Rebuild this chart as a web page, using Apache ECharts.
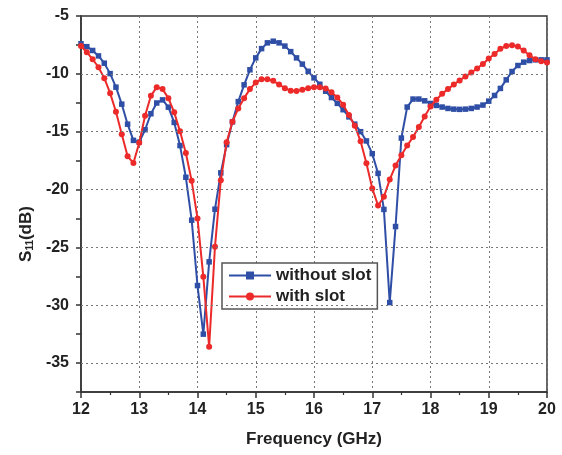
<!DOCTYPE html>
<html><head><meta charset="utf-8">
<script src="https://cdn.jsdelivr.net/npm/echarts@6/dist/echarts.min.js"></script>
<style>html,body{margin:0;padding:0;background:#fff}#c{width:562px;height:455px}</style>
</head><body><div id="c"></div>
<script>
var freq = [12.0,12.1,12.2,12.3,12.4,12.5,12.6,12.7,12.8,12.9,13.0,13.1,13.2,13.3,13.4,13.5,13.6,13.7,13.8,13.9,
14.0,14.1,14.2,14.3,14.4,14.5,14.6,14.7,14.8,14.9,15.0,15.1,15.2,15.3,15.4,15.5,15.6,15.7,15.8,15.9,
16.0,16.1,16.2,16.3,16.4,16.5,16.6,16.7,16.8,16.9,17.0,17.1,17.2,17.3,17.4,17.5,17.6,17.7,17.8,17.9,
18.0,18.1,18.2,18.3,18.4,18.5,18.6,18.7,18.8,18.9,19.0,19.1,19.2,19.3,19.4,19.5,19.6,19.7,19.8,19.9,20.0];
var withoutSlot = [-7.4,-7.65,-7.98,-8.45,-9.08,-9.98,-11.15,-12.62,-14.35,-15.75,-15.9,-14.83,-13.45,-12.52,-12.25,-12.88,-14.2,-16.2,-18.94,-22.65,
-28.3,-32.5,-26.25,-21.7,-18.56,-16.12,-14.15,-12.4,-10.95,-9.65,-8.62,-7.82,-7.32,-7.18,-7.32,-7.6,-8.08,-8.62,-9.16,-9.78,
-10.35,-10.9,-11.5,-12.05,-12.55,-13.1,-13.72,-14.35,-15.0,-15.8,-16.9,-18.6,-21.72,-29.77,-23.2,-15.55,-12.87,-12.18,-12.18,-12.33,
-12.56,-12.73,-12.87,-12.99,-13.05,-13.07,-13.05,-12.99,-12.87,-12.7,-12.36,-11.87,-11.26,-10.52,-9.8,-9.28,-8.99,-8.85,-8.79,-8.79,-8.79];
var withSlot = [-7.59,-8.13,-8.74,-9.43,-10.37,-11.67,-13.28,-15.23,-17.13,-17.7,-15.95,-13.62,-11.9,-11.15,-11.32,-12.1,-13.33,-14.97,-16.84,-19.25,
-22.5,-27.53,-33.59,-24.95,-19.2,-15.92,-14.14,-12.99,-12.1,-11.32,-10.75,-10.46,-10.46,-10.6,-10.92,-11.24,-11.47,-11.49,-11.38,-11.24,
-11.15,-11.15,-11.26,-11.58,-12.04,-12.67,-13.56,-14.48,-15.83,-17.73,-19.9,-21.38,-20.63,-19.14,-17.93,-17.04,-16.2,-15.46,-14.6,-13.68,
-12.82,-12.24,-11.72,-11.32,-10.92,-10.57,-10.23,-9.89,-9.54,-9.14,-8.68,-8.28,-7.84,-7.59,-7.53,-7.64,-7.99,-8.39,-8.74,-8.91,-9.02];
var yGridValues = [-35,-30,-25,-20,-15,-10];
var seriesNames = ['without slot','with slot'];

function pairs(xs, ys){ return xs.map(function(x,i){ return [x, ys[i]]; }); }
var FONT = 'Liberation Sans, Arial, sans-serif';
var chart = echarts.init(document.getElementById('c'), null, {renderer:'canvas'});
chart.setOption({
  animation:false,
  backgroundColor:'#fff',
  grid:{left:81,right:15,top:16,bottom:63,show:true,borderColor:'#333',borderWidth:1.5,backgroundColor:'transparent'},
  legend:{
    orient:'vertical', left:222, top:263, padding:[4,6,4,6], itemGap:4,
    itemWidth:42, itemHeight:10, backgroundColor:'#fff', borderColor:'#555', borderWidth:1.5, borderRadius:0,
    textStyle:{fontFamily:FONT,fontWeight:'bold',fontSize:17,color:'#222'},
    data:seriesNames
  },
  xAxis:{
    type:'value', min:12, max:20, interval:1,
    name:'Frequency (GHz)', nameLocation:'middle', nameGap:39,
    nameTextStyle:{fontFamily:FONT,fontWeight:'bold',fontSize:17,color:'#222'},
    axisLine:{show:true,lineStyle:{color:'#333',width:1.5}},
    axisTick:{show:true,inside:false,length:6,lineStyle:{color:'#333',width:1.5}},
    minorTick:{show:true,splitNumber:2,length:3,lineStyle:{color:'#333',width:1.2}},
    axisLabel:{fontFamily:FONT,fontWeight:'bold',fontSize:16,color:'#222',margin:10},
    splitLine:{show:true,lineStyle:{color:'#777',type:[2,3],width:1}}
  },
  yAxis:{
    type:'value', min:-37.5, max:-5, interval:2.5,
    name:'S{sub|11}(dB)', nameLocation:'middle', nameGap:46, nameRotate:90,
    nameTextStyle:{fontFamily:FONT,fontWeight:'bold',fontSize:17,color:'#222',padding:[0,60,0,0],
      rich:{sub:{fontFamily:FONT,fontWeight:'bold',fontSize:10,color:'#222',verticalAlign:'bottom',padding:[8,0,0,0]}}},
    axisLine:{show:true,lineStyle:{color:'#333',width:1.5}},
    axisTick:{show:true,inside:false,length:5,lineStyle:{color:'#333',width:1.5}},
    axisLabel:{fontFamily:FONT,fontWeight:'bold',fontSize:16,color:'#222',margin:12,
      formatter:function(v){ return (Math.abs(v % 5) < 1e-6) ? String(v) : ''; }},
    splitLine:{show:false}
  },
  series:[
    {name:seriesNames[0], type:'line', data:pairs(freq, withoutSlot), symbol:'rect', symbolSize:5.5,
      itemStyle:{color:'#2f4ea5'}, lineStyle:{color:'#2f4ea5',width:2}, z:3,
      markLine:{silent:true, symbol:'none', label:{show:false}, animation:false,
        lineStyle:{color:'#777',type:[2,3],width:1},
        data:yGridValues.map(function(v){ return {yAxis:v}; })}},
    {name:seriesNames[1], type:'line', data:pairs(freq, withSlot), symbol:'circle', symbolSize:6,
      itemStyle:{color:'#ec2a2a'}, lineStyle:{color:'#ec2a2a',width:2}, z:4}
  ]
});
</script></body></html>
